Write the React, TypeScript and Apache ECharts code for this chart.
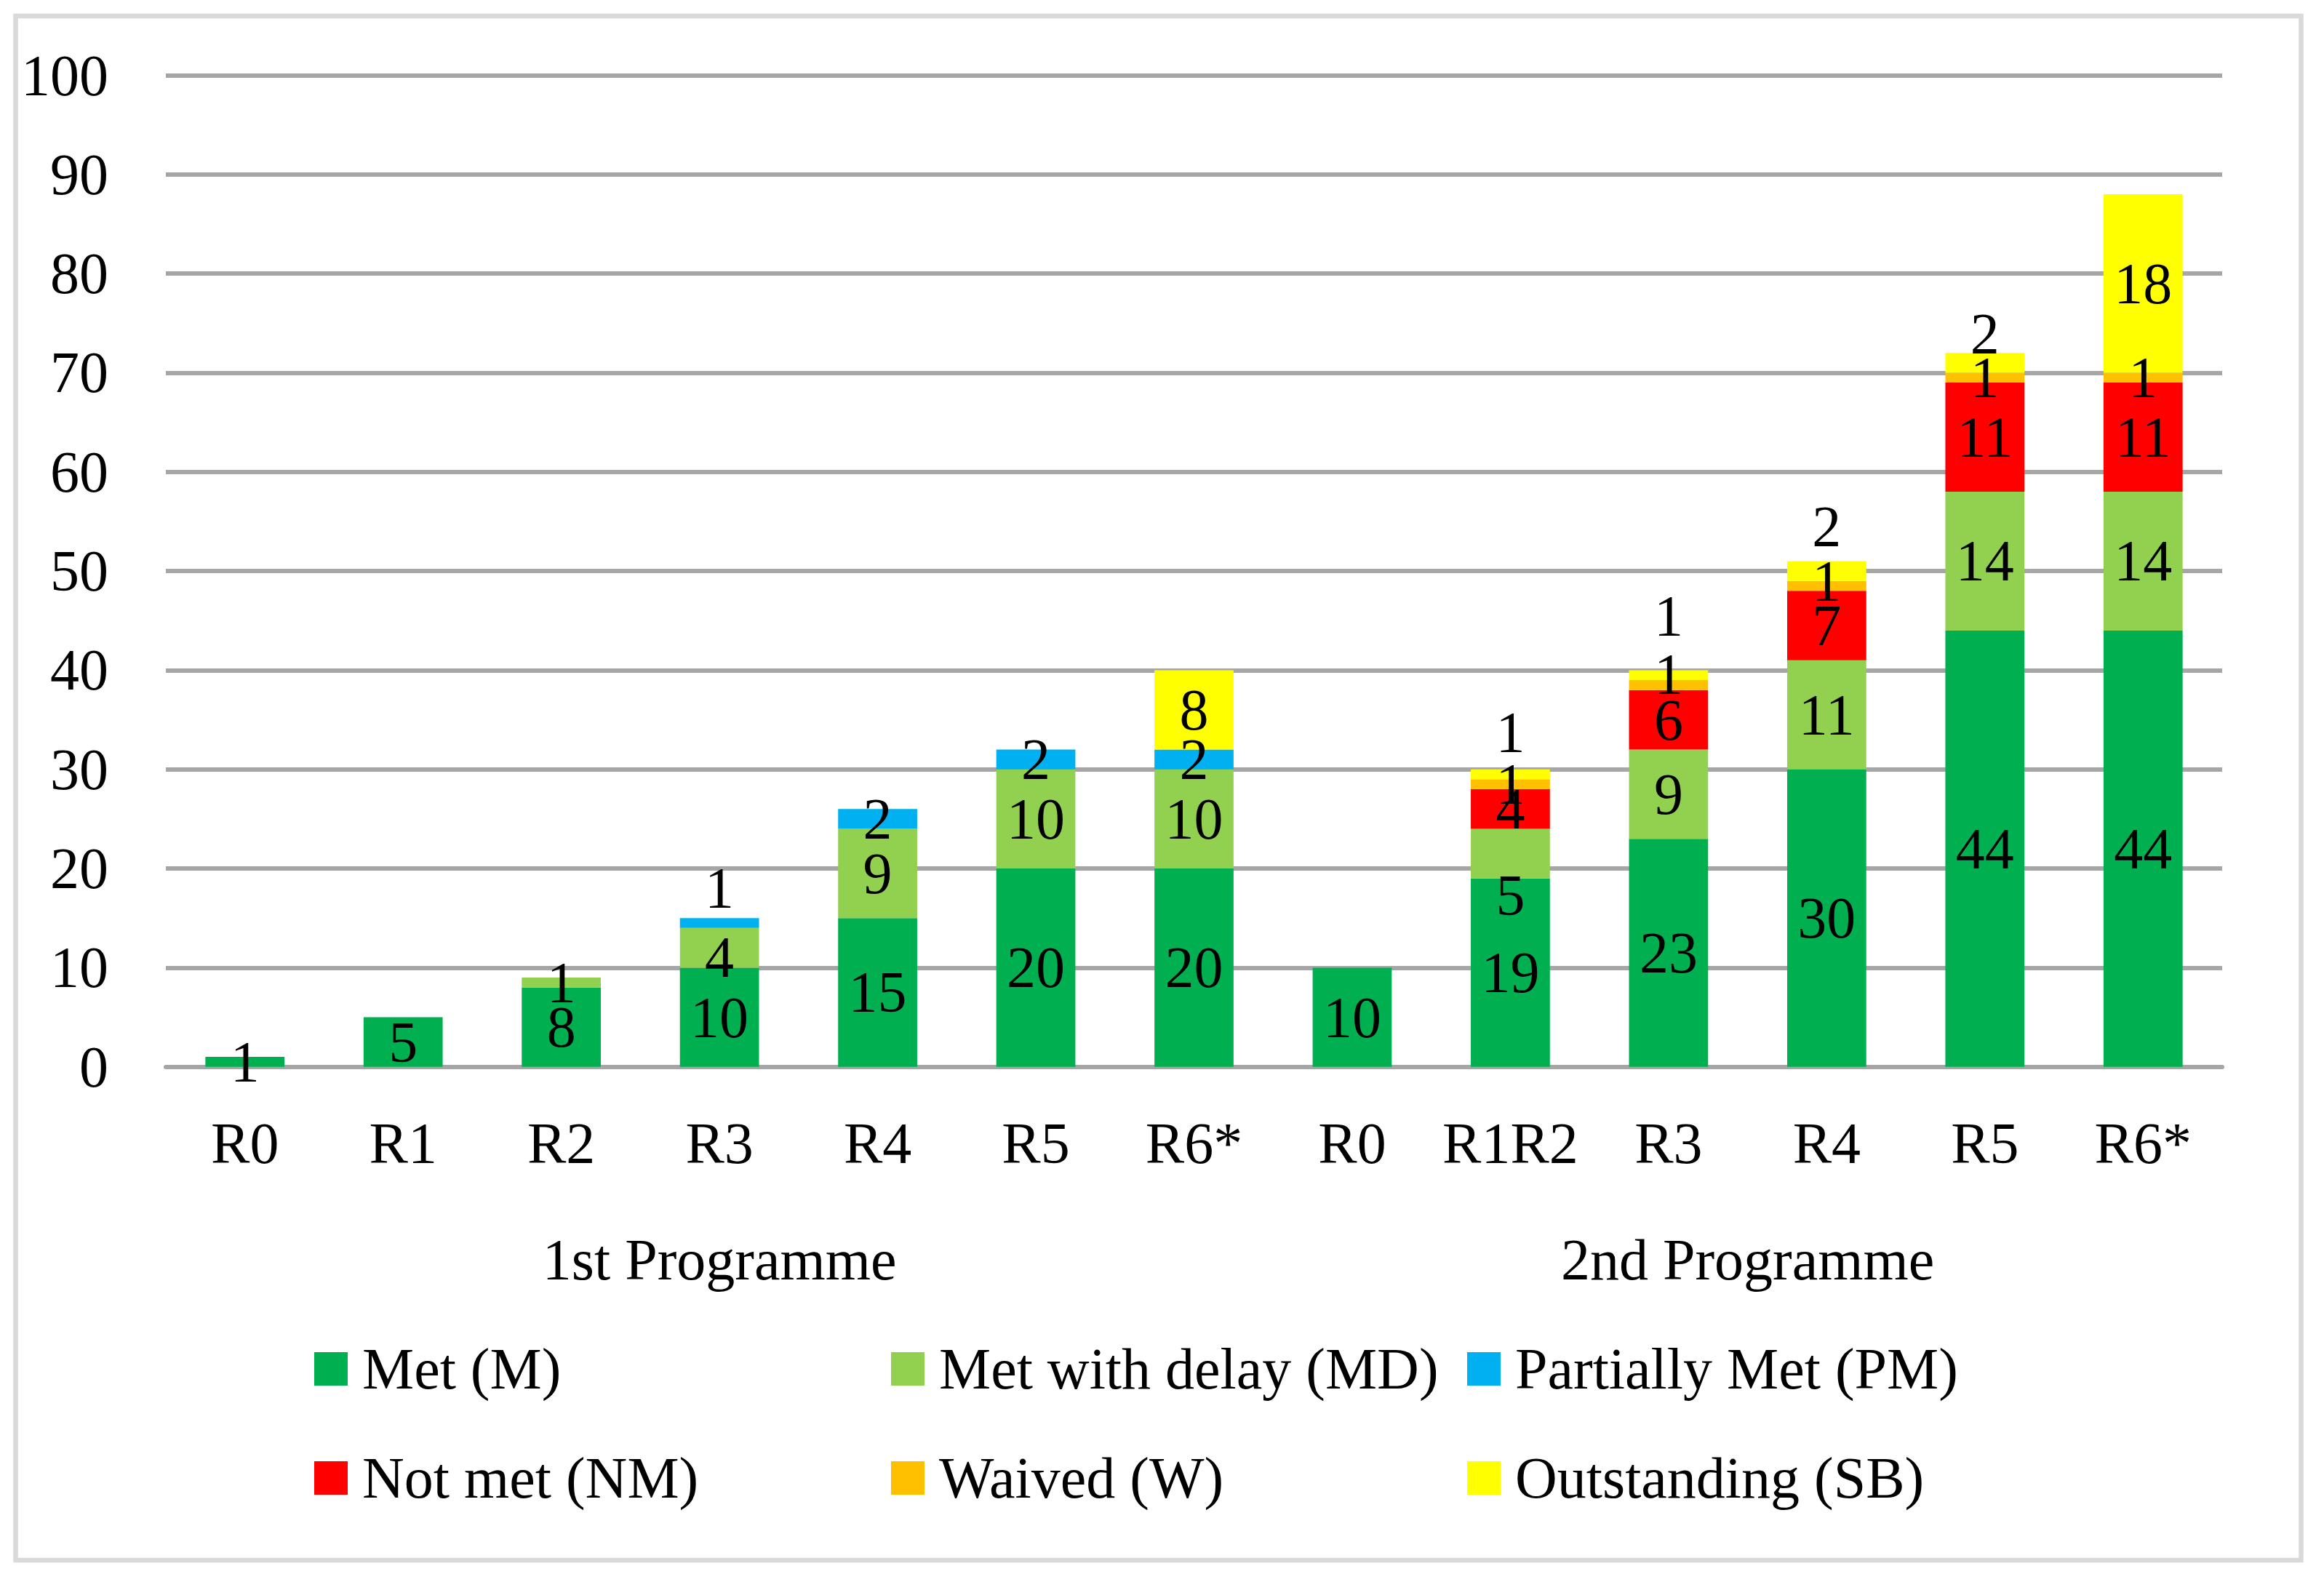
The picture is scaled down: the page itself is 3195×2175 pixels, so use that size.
import React, { useEffect, useRef } from "react";
import * as echarts from "echarts";

// ---------- data ----------
const categories = ["R0", "R1", "R2", "R3", "R4", "R5", "R6*", "R0", "R1R2", "R3", "R4", "R5", "R6*"];
const groupLabels = ["1st Programme", "2nd Programme"];
const groupSizes = [7, 6];

const metM = [1, 5, 8, 10, 15, 20, 20, 10, 19, 23, 30, 44, 44];
const metDelayMD = [0, 0, 1, 4, 9, 10, 10, 0, 5, 9, 11, 14, 14];
const partiallyMetPM = [0, 0, 0, 1, 2, 2, 2, 0, 0, 0, 0, 0, 0];
const notMetNM = [0, 0, 0, 0, 0, 0, 0, 0, 4, 6, 7, 11, 11];
const waivedW = [0, 0, 0, 0, 0, 0, 0, 0, 1, 1, 1, 1, 1];
const outstandingSB = [0, 0, 0, 0, 0, 0, 8, 0, 1, 1, 2, 2, 18];

const seriesNames = [
  "Met (M)",
  "Met with delay (MD)",
  "Partially Met (PM)",
  "Not met (NM)",
  "Waived (W)",
  "Outstanding (SB)",
];
const seriesValues = [metM, metDelayMD, partiallyMetPM, notMetNM, waivedW, outstandingSB];

const yMin = 0;
const yMax = 100;
const yInterval = 10;

// ---------- styling ----------
const seriesColors = ["#00B050", "#92D050", "#00B0F0", "#FF0000", "#FFC000", "#FFFF00"];
const FONT = "'Liberation Serif', 'Times New Roman', serif";
const FS = 80;
const GRID_COLOR = "#A6A6A6";

// label nudges (pixels) mimicking the manual placement in the original: [seriesIndex, categoryIndex, dy]
const labelNudges: [number, number, number][] = [
  [5, 8, -58],
  [5, 9, -81],
  [5, 10, -61],
  [5, 11, -40],
  [2, 3, -48],
  [1, 8, 57],
  [1, 3, 13],
  [4, 9, -15],
  [4, 10, -7],
];

// legend columns (series indices) and their left edges
const legendColumns = [
  [0, 3],
  [1, 4],
  [2, 5],
];
const legendLefts = [432, 1225, 2017];

export default function App() {
  const ref = useRef<HTMLDivElement>(null);

  useEffect(() => {
    if (!ref.current) return;
    const chart = echarts.init(ref.current, null, { renderer: "svg" });

    // group label centres on a value axis that spans the category bands
    let start = 0;
    const groupCenters = groupSizes.map((n) => {
      const c = start + (n - 1) / 2;
      start += n;
      return c;
    });

    const series = seriesValues.map((vals, si) => ({
      name: seriesNames[si],
      type: "bar",
      stack: "total",
      xAxisIndex: 0,
      yAxisIndex: 0,
      barWidth: "50%",
      itemStyle: { color: seriesColors[si] },
      label: {
        show: true,
        position: "inside",
        color: "#000",
        fontFamily: FONT,
        fontSize: FS,
        formatter: (p: any) => (p.value > 0 ? String(p.value) : ""),
      },
      data: vals.map((v, ci) => {
        const nudge = labelNudges.find((n) => n[0] === si && n[1] === ci);
        if (nudge) {
          return { value: v, label: { offset: [0, nudge[2]] } };
        }
        return v;
      }),
    }));

    const legends = legendColumns.map((col, li) => ({
      orient: "vertical",
      left: legendLefts[li],
      top: 1842,
      padding: 0,
      itemWidth: 46,
      itemHeight: 46,
      itemGap: 70,
      icon: "rect",
      selectedMode: false,
      data: col.map((si) => seriesNames[si]),
      textStyle: {
        color: "#000",
        fontFamily: FONT,
        fontSize: FS,
        lineHeight: 80,
        padding: [0, 0, 0, 15],
      },
    }));

    chart.setOption({
      animation: false,
      backgroundColor: "#fff",
      grid: { left: 228, right: 140, top: 103.5, bottom: 708.3 },
      xAxis: [
        {
          type: "category",
          data: categories,
          position: "bottom",
          axisLine: { show: true, lineStyle: { color: GRID_COLOR, width: 6 } },
          axisTick: { show: false },
          axisLabel: {
            interval: 0,
            margin: 65,
            color: "#000",
            fontFamily: FONT,
            fontSize: FS,
          },
        },
        {
          type: "value",
          position: "bottom",
          min: -0.5,
          max: categories.length - 0.5,
          interval: 0.5,
          axisLine: { show: false },
          axisTick: { show: false },
          splitLine: { show: false },
          axisLabel: {
            margin: 225,
            color: "#000",
            fontFamily: FONT,
            fontSize: FS,
            showMinLabel: true,
            showMaxLabel: true,
            formatter: (v: number) => {
              const gi = groupCenters.findIndex((c) => Math.abs(c - v) < 1e-6);
              return gi >= 0 ? groupLabels[gi] : "";
            },
          },
        },
      ],
      yAxis: {
        type: "value",
        min: yMin,
        max: yMax,
        interval: yInterval,
        axisLine: { show: false },
        axisTick: { show: false },
        splitLine: { show: true, lineStyle: { color: GRID_COLOR, width: 6 } },
        axisLabel: {
          margin: 79,
          color: "#000",
          fontFamily: FONT,
          fontSize: FS,
        },
      },
      legend: legends,
      series,
      graphic: [
        {
          type: "rect",
          shape: { x: 21.5, y: 22, width: 3142, height: 2123 },
          style: { fill: "none", stroke: "#D9D9D9", lineWidth: 6.5 },
          silent: true,
          z: -1,
        },
      ],
    });

    return () => chart.dispose();
  }, []);

  return (
    <div
      ref={ref}
      style={{ position: "fixed", left: 0, top: 0, width: 3195, height: 2175, background: "#fff" }}
    />
  );
}
